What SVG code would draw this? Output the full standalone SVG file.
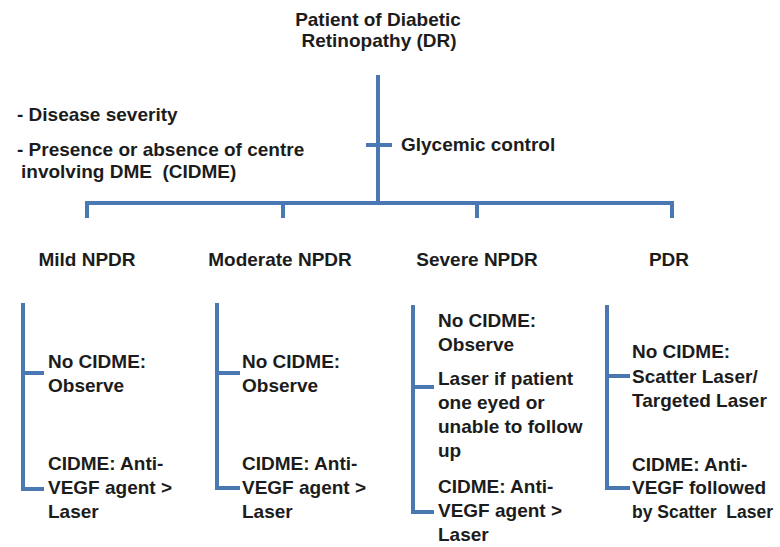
<svg xmlns="http://www.w3.org/2000/svg" width="780" height="547" viewBox="0 0 780 547">
<style>
  text { font-family: "Liberation Sans", Arial, sans-serif; font-size: 19px; font-weight: bold; fill: #1c1c1c; }
  .c { text-anchor: middle; }
  .ln { fill: none; stroke: #4a78b3; stroke-width: 4; stroke-linejoin: miter; }
</style>
<rect width="780" height="547" fill="#ffffff"/>
<g id="connectors">
  <path class="ln" d="M378,75 V203"/>
  <path class="ln" d="M366,145 H392"/>
  <path class="ln" d="M87,218 V203 H672 V218"/>
  <path class="ln" d="M283,203 V218"/>
  <path class="ln" d="M477,203 V218"/>
  <path class="ln" d="M44,489 H23 V303"/>
  <path class="ln" d="M23,373 H44"/>
  <path class="ln" d="M240,488 H217 V303"/>
  <path class="ln" d="M217,373 H240"/>
  <path class="ln" d="M434,512 H413 V305"/>
  <path class="ln" d="M413,387 H434"/>
  <path class="ln" d="M630,488 H607 V305"/>
  <path class="ln" d="M607,376 H630"/>
</g>
<g id="root">
  <text class="c" x="378" y="26">Patient of Diabetic</text>
  <text class="c" x="379" y="47">Retinopathy (DR)</text>
</g>
<g id="criteria">
  <text x="17" y="121">- Disease severity</text>
  <text x="17" y="156">- Presence or absence of centre</text>
  <text x="21" y="178" xml:space="preserve">involving DME  (CIDME)</text>
</g>
<g id="glycemic">
  <text x="401" y="151">Glycemic control</text>
</g>
<g id="mild">
  <text class="c" x="87" y="266">Mild NPDR</text>
  <text x="48" y="368">No CIDME:</text>
  <text x="48" y="392">Observe</text>
  <text x="48" y="470">CIDME: Anti-</text>
  <text x="48" y="494">VEGF agent &gt;</text>
  <text x="48" y="518">Laser</text>
</g>
<g id="moderate">
  <text class="c" x="280" y="266">Moderate NPDR</text>
  <text x="242" y="368">No CIDME:</text>
  <text x="242" y="392">Observe</text>
  <text x="242" y="470">CIDME: Anti-</text>
  <text x="242" y="494">VEGF agent &gt;</text>
  <text x="242" y="518">Laser</text>
</g>
<g id="severe">
  <text class="c" x="477" y="266">Severe NPDR</text>
  <text x="438" y="327">No CIDME:</text>
  <text x="438" y="351">Observe</text>
  <text x="438" y="385">Laser if patient</text>
  <text x="438" y="409">one eyed or</text>
  <text x="438" y="433">unable to follow</text>
  <text x="438" y="457">up</text>
  <text x="438" y="493">CIDME: Anti-</text>
  <text x="438" y="517">VEGF agent &gt;</text>
  <text x="438" y="541">Laser</text>
</g>
<g id="pdr">
  <text class="c" x="669" y="266">PDR</text>
  <text x="632" y="358">No CIDME:</text>
  <text x="632" y="383">Scatter Laser/</text>
  <text x="632" y="407">Targeted Laser</text>
  <text x="632" y="471">CIDME: Anti-</text>
  <text x="632" y="494">VEGF followed</text>
  <text x="632" y="518" xml:space="preserve" style="font-size:17.5px">by Scatter  Laser</text>
</g>
</svg>
